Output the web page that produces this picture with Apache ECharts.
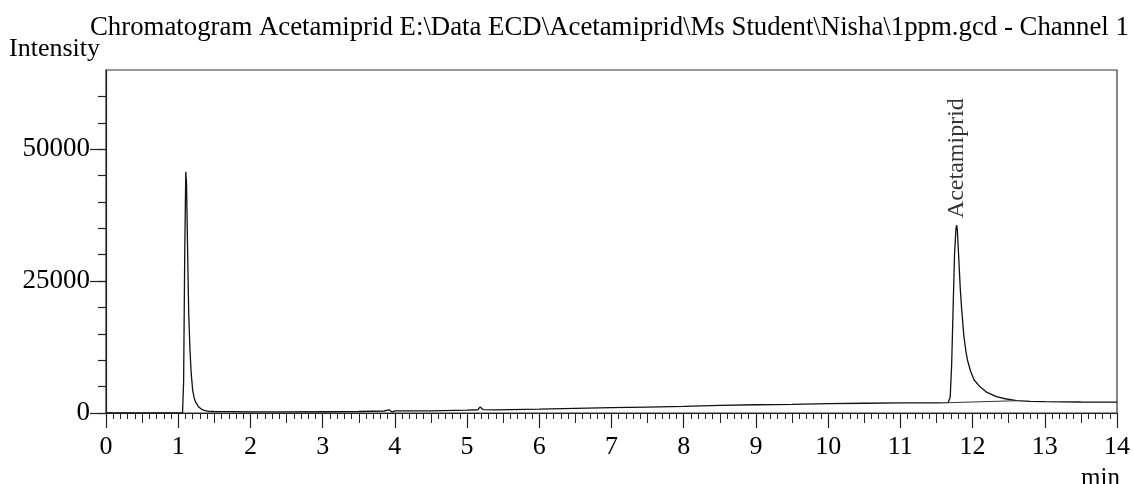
<!DOCTYPE html>
<html>
<head>
<meta charset="utf-8">
<script src="https://cdn.jsdelivr.net/npm/echarts@6/dist/echarts.min.js"></script>
<style>
html,body{margin:0;padding:0;background:#fff;}
#chart{width:1133px;height:484px;}
</style>
</head>
<body>
<div id="chart"></div>
<script>
// Retention time (min)
var times = [0.0,0.5,1.0,1.06,1.075,1.09,1.105,1.115,1.13,1.145,1.163,1.18,1.20,1.22,1.24,1.28,1.32,1.36,1.42,1.5,1.75,2.0,2.5,3.0,3.5,3.85,3.92,3.96,4.0,4.5,5.0,5.15,5.18,5.22,5.4,6.0,6.5,7.0,7.5,8.0,8.5,9.0,9.5,10.0,10.5,11.0,11.5,11.66,11.69,11.71,11.73,11.75,11.77,11.78,11.79,11.81,11.83,11.85,11.88,11.91,11.93,11.97,12.02,12.10,12.20,12.33,12.45,12.61,12.8,13.0,13.5,14.0];
// Detector intensity
var intensity = [30,30,40,60,6000,30000,45700,43500,30900,19000,11900,7500,4350,2900,2100,1200,750,480,320,280,250,220,210,240,280,380,600,180,420,420,560,620,1150,650,600,720,860,1000,1120,1260,1430,1560,1640,1780,1850,1900,1930,1950,3000,9000,19500,30000,35000,35600,34500,29000,23500,19500,14500,11500,10000,8000,6300,5000,3900,3100,2700,2330,2220,2150,2080,2050];
// Integration baseline under the named peak
var baselineTimes = [11.66, 12.61];
var baselineValues = [1950, 2330];
// Peak annotation
var peakNames = ['Acetamiprid'];
var peakTimes = [11.78];
var peakValues = [35600];

var titleText = 'Chromatogram Acetamiprid E:\\Data ECD\\Acetamiprid\\Ms Student\\Nisha\\1ppm.gcd - Channel 1';
var xTicks = {min: 0, max: 14, interval: 1};
var yTicks = {min: 0, max: 65000, interval: 5000, labelled: [0, 25000, 50000]};

var FONT = "'Liberation Serif','Times New Roman',serif";
var INK = '#222';

var chart = echarts.init(document.getElementById('chart'), null, {renderer: 'canvas'});

var traceData = times.map(function (t, i) { return [t, intensity[i]]; });
var baseData = baselineTimes.map(function (t, i) { return [t, baselineValues[i]]; });
var peakData = peakTimes.map(function (t, i) { return {value: [t, peakValues[i]], name: peakNames[i]}; });

chart.setOption({
  animation: false,
  backgroundColor: '#fff',
  title: {
    text: titleText,
    left: 85, top: 9,
    textStyle: {fontFamily: FONT, fontSize: 26.8, fontWeight: 'normal', color: '#000'}
  },
  graphic: [
    {type: 'text', left: 9, top: 36, style: {text: 'Intensity', font: '26px ' + FONT, fill: '#000'}},
    {type: 'text', left: 1081, top: 466, style: {text: 'min', font: '25px ' + FONT, fill: '#000'}}
  ],
  grid: {left: 106, right: 16, top: 70, bottom: 71, show: true, borderColor: '#333', borderWidth: 1.2, backgroundColor: 'transparent'},
  xAxis: [
    {
      type: 'value', min: xTicks.min, max: xTicks.max, interval: xTicks.interval,
      axisLine: {show: true, onZero: false, lineStyle: {color: INK, width: 1.2}},
      axisTick: {show: true, inside: false, length: 15, lineStyle: {color: INK, width: 1.2}},
      minorTick: {show: true, splitNumber: 10, length: 6, lineStyle: {color: INK, width: 1}},
      axisLabel: {show: true, margin: 21, fontFamily: FONT, fontSize: 26, color: '#000'},
      splitLine: {show: false}, minorSplitLine: {show: false}
    },
    {
      type: 'value', min: xTicks.min, max: xTicks.max, interval: 0.5, position: 'bottom',
      axisLine: {show: false, onZero: false},
      axisTick: {show: true, inside: false, length: 10, lineStyle: {color: INK, width: 1}},
      axisLabel: {show: false},
      splitLine: {show: false}
    }
  ],
  yAxis: [
    {
      type: 'value', min: yTicks.min, max: yTicks.max, interval: yTicks.interval,
      axisLine: {show: true, onZero: false, lineStyle: {color: INK, width: 1.2}},
      axisTick: {show: true, inside: false, length: 8, lineStyle: {color: INK, width: 1.2}},
      axisLabel: {
        show: true, margin: 16, fontFamily: FONT, fontSize: 27, color: '#000',
        showMaxLabel: false,
        formatter: function (v) { return yTicks.labelled.indexOf(v) >= 0 ? String(v) : ''; }
      },
      splitLine: {show: false}
    },
    {
      type: 'value', min: yTicks.min, max: yTicks.max, position: 'left',
      axisLine: {show: false, onZero: false},
      axisTick: {show: true, inside: false, length: 16, customValues: yTicks.labelled, lineStyle: {color: INK, width: 1.2}},
      axisLabel: {show: false},
      splitLine: {show: false}
    }
  ],
  series: [
    {
      type: 'line', name: 'trace', data: traceData, xAxisIndex: 0, yAxisIndex: 0,
      showSymbol: false, symbol: 'none', smooth: false,
      lineStyle: {color: '#111', width: 1.3}
    },
    {
      type: 'line', name: 'baseline', data: baseData, xAxisIndex: 0, yAxisIndex: 0,
      showSymbol: false, symbol: 'none',
      lineStyle: {color: '#333', width: 1}
    },
    {
      type: 'scatter', name: 'peaks', data: peakData, xAxisIndex: 0, yAxisIndex: 0,
      symbolSize: 0,
      label: {
        show: true, position: 'top', distance: 7, rotate: 90,
        align: 'left', verticalAlign: 'middle',
        formatter: function (p) { return p.name; },
        fontFamily: FONT, fontSize: 24, color: '#000'
      }
    }
  ]
});
</script>
</body>
</html>
